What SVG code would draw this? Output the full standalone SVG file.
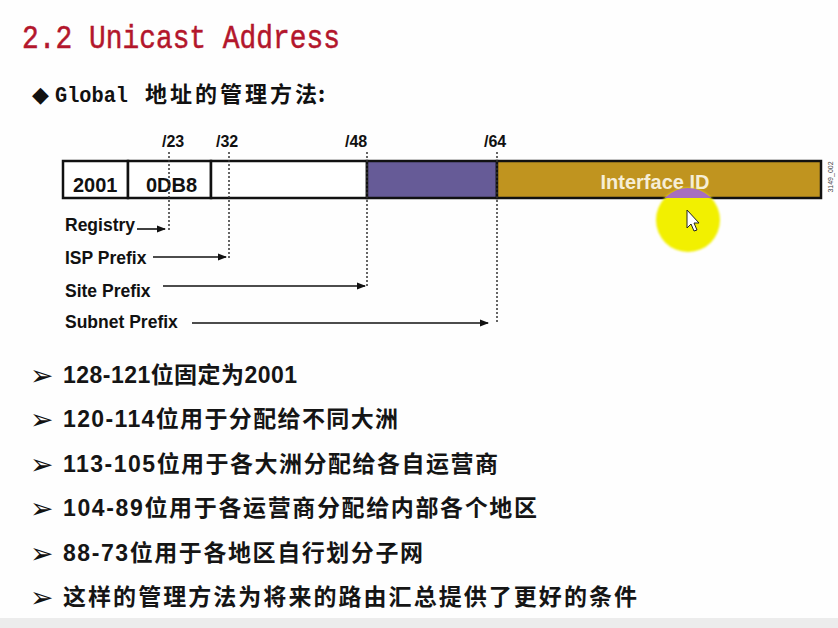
<svg xmlns="http://www.w3.org/2000/svg" width="838" height="628" viewBox="0 0 838 628">
<defs>
<marker id="ah" markerWidth="9" markerHeight="8" refX="8" refY="4" orient="auto" markerUnits="userSpaceOnUse">
<path d="M0,0.5 L9,4 L0,7.5 Z" fill="#111"/>
</marker>
<filter id="soft" x="-20%" y="-20%" width="140%" height="140%"><feGaussianBlur stdDeviation="1.2"/></filter>
<clipPath id="barclip"><rect x="63" y="186" width="758" height="12"/></clipPath>
</defs>
<style>
.title{font-family:"Liberation Mono","DejaVu Sans Mono",monospace;font-size:33px;fill:#b3162c;stroke:#b3162c;stroke-width:0.5}
.sub{font-family:"Liberation Mono","DejaVu Sans Mono",monospace;font-size:22px;font-weight:bold;fill:#111}
.cjk{font-family:"Noto Sans CJK SC",sans-serif;fill:#111}
.bl{font-family:"DejaVu Sans",sans-serif;font-size:22px;fill:#111}
.arrbl{font-family:"DejaVu Sans",sans-serif;font-size:28px;fill:#111}
.item{font-family:"Liberation Sans","Noto Sans CJK SC",sans-serif;font-size:23px;fill:#151515;font-weight:bold}
.lab{font-family:"Liberation Sans",Arial,sans-serif;font-weight:bold;fill:#111}
.dot{stroke:#333;stroke-width:1.5;stroke-dasharray:2,2;fill:none}
.arr{stroke:#111;stroke-width:1.6;fill:none;marker-end:url(#ah)}
.seg{stroke:#111;stroke-width:2.5}
</style>
<rect width="838" height="628" fill="#fefefe"/>
<rect x="0" y="618" width="838" height="10" fill="#ececec"/>

<text class="title" x="22" y="48" textLength="318" lengthAdjust="spacingAndGlyphs">2.2 Unicast Address</text>

<text x="32" y="102"><tspan class="bl" font-size="24">◆</tspan><tspan class="sub" x="55" textLength="73" lengthAdjust="spacingAndGlyphs">Global</tspan><tspan class="cjk" x="145" font-size="22" font-weight="bold" textLength="172" lengthAdjust="spacing">地址的管理方法</tspan><tspan class="cjk" x="318" font-size="22" font-weight="bold">:</tspan></text>

<g id="bar">
<rect class="seg" x="63" y="161" width="65" height="37" fill="#ffffff"/>
<rect class="seg" x="128" y="161" width="83" height="37" fill="#ffffff"/>
<rect class="seg" x="211" y="161" width="156" height="37" fill="#ffffff"/>
<rect class="seg" x="367" y="161" width="130" height="37" fill="#665b97"/>
<rect class="seg" x="497" y="161" width="324" height="37" fill="#c0941f"/>
<text class="lab" x="73" y="192" font-size="20">2001</text>
<text class="lab" x="146" y="192" font-size="20">0DB8</text>
<text class="lab" x="655" y="189" font-size="20" text-anchor="middle" style="fill:#f6eed6">Interface ID</text>
</g>

<g id="ticks">
<text class="lab" x="162" y="147" font-size="16">/23</text>
<text class="lab" x="216" y="147" font-size="16">/32</text>
<text class="lab" x="345" y="147" font-size="16">/48</text>
<text class="lab" x="484" y="147" font-size="16">/64</text>
</g>

<g id="connectors">
<line class="dot" x1="169" y1="152" x2="169" y2="230"/>
<line class="dot" x1="229" y1="152" x2="229" y2="258"/>
<line class="dot" x1="367" y1="152" x2="367" y2="287"/>
<line class="dot" x1="497" y1="152" x2="497" y2="324"/>
<line class="arr" x1="137" y1="229" x2="165" y2="229"/>
<line class="arr" x1="153" y1="257" x2="226" y2="257"/>
<line class="arr" x1="163" y1="286" x2="365" y2="286"/>
<line class="arr" x1="192" y1="323" x2="488" y2="323"/>
</g>

<g id="prefixes">
<text class="lab" x="65" y="231" font-size="17.5">Registry</text>
<text class="lab" x="65" y="264" font-size="17.5">ISP Prefix</text>
<text class="lab" x="65" y="297" font-size="17.5">Site Prefix</text>
<text class="lab" x="65" y="328" font-size="17.5">Subnet Prefix</text>
</g>

<text font-family="Liberation Sans, sans-serif" font-size="7" fill="#444" transform="translate(833,177) rotate(-90)" text-anchor="middle">3149_002</text>

<g id="highlight">
<circle cx="688" cy="220" r="32" fill="#f2f000" filter="url(#soft)"/>
<circle cx="688" cy="220" r="32" fill="#9a58e0" clip-path="url(#barclip)" opacity="0.85"/>
<path d="M687,210 L687,228 L691,224 L694,231 L697,230 L694,223 L699,223 Z" fill="#fff" stroke="#222" stroke-width="1"/>
</g>

<g id="bullets">
<text class="arrbl" x="30" y="385">➢</text>
<text class="arrbl" x="30" y="429">➢</text>
<text class="arrbl" x="30" y="474">➢</text>
<text class="arrbl" x="30" y="518">➢</text>
<text class="arrbl" x="30" y="563">➢</text>
<text class="arrbl" x="30" y="607">➢</text>
<text class="item" x="63" y="383" textLength="234" lengthAdjust="spacing">128-121位固定为2001</text>
<text class="item" x="63" y="427" textLength="335" lengthAdjust="spacing">120-114位用于分配给不同大洲</text>
<text class="item" x="63" y="472" textLength="435" lengthAdjust="spacing">113-105位用于各大洲分配给各自运营商</text>
<text class="item" x="63" y="516" textLength="474" lengthAdjust="spacing">104-89位用于各运营商分配给内部各个地区</text>
<text class="item" x="63" y="561" textLength="360" lengthAdjust="spacing">88-73位用于各地区自行划分子网</text>
<text class="item" x="63" y="605" textLength="574" lengthAdjust="spacing">这样的管理方法为将来的路由汇总提供了更好的条件</text>
</g>
</svg>
